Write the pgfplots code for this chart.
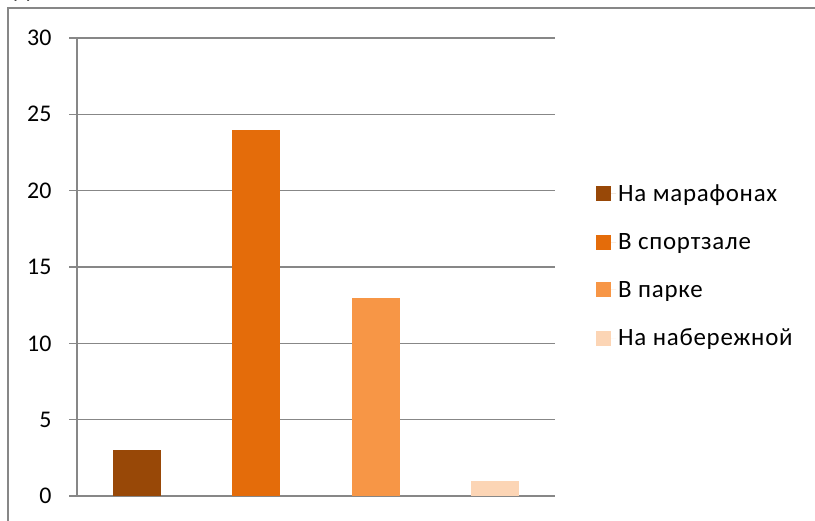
\documentclass[border=0pt]{standalone}
\usepackage{fontspec}
\setmainfont{Carlito}
\usepackage{pgfplots}
\pgfplotsset{compat=1.18}
\definecolor{cA}{HTML}{984807}
\definecolor{cB}{HTML}{E46C0A}
\definecolor{cC}{HTML}{F79646}
\definecolor{cD}{HTML}{FCD5B5}
\definecolor{gridc}{HTML}{878787}
\begin{document}
\begin{tikzpicture}[x=1bp,y=1bp]
\useasboundingbox (0,0) rectangle (815,521);
\draw[gridc, line width=1.2bp] (8,0) -- (8,513) -- (815,513);
\node[anchor=base, inner sep=0pt, font=\fontsize{24}{28}\selectfont] at (22,523) {Д};
\begin{axis}[
  at={(77bp,25bp)}, anchor=south west,
  scale only axis, width=478bp, height=458bp,
  xmin=-0.5, xmax=3.5, ymin=0, ymax=30,
  ytick={0,5,...,30}, xtick=\empty,
  axis y line*=left, axis x line*=bottom,
  axis line style={gridc, line width=1.2bp, -},
  ymajorgrids, grid style={gridc, line width=1.2bp},
  tick align=outside, major tick length=8bp,
  tick style={gridc, line width=1.2bp},
  yticklabel style={font=\fontsize{24}{28}\selectfont, text=black, xshift=-14bp},
  /pgf/number format/assume math mode=true,
  ybar, bar width=48bp, bar shift=0pt,
  clip=false,
  legend style={at={(1,0.5)}, anchor=west, draw=none, fill=none,
    font=\fontsize{25}{29}\selectfont\addfontfeature{LetterSpace=3}, row sep=26.3bp, xshift=38bp, yshift=1bp},
  legend cell align=left,
  legend image code/.code={\fill[#1] (0bp,-7.5bp) rectangle (15bp,7.5bp); \path (15bp,0) -- (20bp,0);},
]
\addplot[fill=cA, draw=none] coordinates {(0,3)};
\addplot[fill=cB, draw=none] coordinates {(1,24)};
\addplot[fill=cC, draw=none] coordinates {(2,13)};
\addplot[fill=cD, draw=none] coordinates {(3,1)};
\legend{На марафонах, В спортзале, В парке, На набережной}
\end{axis}
\end{tikzpicture}
\end{document}
